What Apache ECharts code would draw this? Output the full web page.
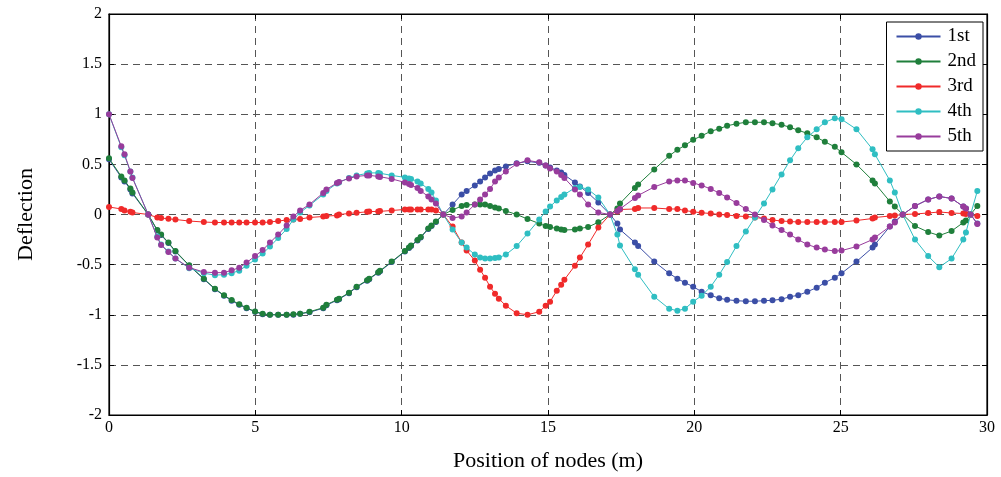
<!DOCTYPE html>
<html>
<head>
<meta charset="utf-8">
<script src="https://cdn.jsdelivr.net/npm/echarts@6/dist/echarts.min.js"></script>
<style>html,body{margin:0;padding:0;background:#fff}#chart{width:1001px;height:477px}</style>
</head>
<body>
<div id="chart"></div>
<script>
// node positions (m)
const nodes = [0, 0.42, 0.53, 0.73, 0.8, 1.34, 1.65, 1.78, 2.03, 2.27, 2.74, 3.24, 3.62, 3.93, 4.19, 4.45, 4.7, 4.99, 5.25, 5.5, 5.78, 6.07, 6.3, 6.53, 6.85,
  7.32, 7.43, 7.79, 7.86, 8.2, 8.46, 8.82, 8.89, 9.2, 9.26, 9.66, 10.11, 10.25, 10.32, 10.54, 10.65, 10.91, 11.02, 11.17, 11.42,
  11.74, 12.05, 12.22, 12.5, 12.68, 12.85, 13.02, 13.19, 13.32, 13.56, 13.93, 14.3, 14.7, 14.92, 15.07, 15.3, 15.45, 15.56, 15.92, 16.09, 16.37, 16.72, 17.12,
  17.37, 17.46, 17.97, 18.08, 18.63, 19.14, 19.42, 19.68, 19.96, 20.25, 20.56, 20.85, 21.12, 21.44, 21.76, 22.07, 22.38, 22.67, 22.98, 23.27, 23.55, 23.86, 24.18, 24.46, 24.8, 25.03, 25.54, 26.09, 26.17, 26.68, 26.85, 27.12, 27.54, 27.99, 28.37, 28.79, 29.19, 29.28, 29.44, 29.67];

const mode1 = [0.55, 0.37, 0.33, 0.25, 0.21, 0, -0.16, -0.205, -0.285, -0.37, -0.51, -0.645, -0.745, -0.81, -0.86, -0.9, -0.935, -0.97, -0.995, -1.0, -1.0, -1.0, -1.0, -0.99, -0.975,
  -0.935, -0.905, -0.855, -0.845, -0.785, -0.725, -0.66, -0.645, -0.58, -0.565, -0.475, -0.37, -0.335, -0.315, -0.26, -0.23, -0.145, -0.115, -0.075, 0,
  0.1, 0.2, 0.235, 0.29, 0.33, 0.37, 0.41, 0.44, 0.455, 0.48, 0.51, 0.53, 0.515, 0.49, 0.47, 0.44, 0.42, 0.395, 0.32, 0.28, 0.215, 0.12, 0,
  -0.09, -0.15, -0.28, -0.315, -0.47, -0.587, -0.64, -0.68, -0.72, -0.77, -0.806, -0.836, -0.85, -0.86, -0.865, -0.865, -0.86, -0.856, -0.845, -0.82, -0.806, -0.77, -0.73, -0.68, -0.63, -0.587, -0.47, -0.33, -0.3, -0.12, -0.07, 0, 0.085, 0.15, 0.18, 0.16, 0.08, 0.06, 0, -0.09];

const mode2 = [0.56, 0.38, 0.34, 0.26, 0.22, 0, -0.155, -0.2, -0.28, -0.365, -0.507, -0.64, -0.74, -0.806, -0.853, -0.896, -0.93, -0.968, -0.99, -1.0, -1.0, -1.0, -0.995, -0.99, -0.97,
  -0.93, -0.9, -0.85, -0.84, -0.78, -0.72, -0.655, -0.64, -0.575, -0.56, -0.47, -0.365, -0.33, -0.31, -0.255, -0.225, -0.14, -0.11, -0.07, 0,
  0.045, 0.085, 0.095, 0.1, 0.1, 0.1, 0.085, 0.07, 0.06, 0.035, 0, -0.045, -0.09, -0.115, -0.125, -0.14, -0.15, -0.155, -0.15, -0.14, -0.125, -0.077, 0,
  0.06, 0.11, 0.265, 0.3, 0.45, 0.585, 0.645, 0.69, 0.745, 0.785, 0.83, 0.855, 0.885, 0.905, 0.92, 0.92, 0.92, 0.91, 0.895, 0.87, 0.84, 0.81, 0.77, 0.725, 0.675, 0.62, 0.5, 0.34, 0.31, 0.13, 0.08, 0, -0.115, -0.175, -0.21, -0.165, -0.08, -0.06, 0, 0.085];

const mode3 = [0.075, 0.055, 0.04, 0.027, 0.02, 0, -0.03, -0.035, -0.043, -0.05, -0.065, -0.075, -0.08, -0.08, -0.08, -0.08, -0.08, -0.08, -0.08, -0.075, -0.065, -0.055, -0.05, -0.045, -0.03,
  -0.02, -0.015, -0.01, 0, 0.01, 0.017, 0.027, 0.03, 0.03, 0.035, 0.04, 0.05, 0.05, 0.05, 0.05, 0.05, 0.05, 0.05, 0.04, 0,
  -0.12, -0.28, -0.36, -0.46, -0.55, -0.63, -0.72, -0.79, -0.84, -0.91, -0.985, -1.0, -0.97, -0.91, -0.87, -0.76, -0.7, -0.65, -0.51, -0.43, -0.3, -0.13, 0,
  0.03, 0.05, 0.055, 0.065, 0.065, 0.055, 0.055, 0.04, 0.027, 0.017, 0.01, 0, -0.005, -0.015, -0.02, -0.03, -0.04, -0.055, -0.065, -0.07, -0.075, -0.075, -0.075, -0.075, -0.075, -0.075, -0.06, -0.04, -0.03, -0.015, -0.01, 0, 0.005, 0.015, 0.025, 0.015, 0.01, 0.005, 0, -0.015];

const mode4 = [1.0, 0.67, 0.59, 0.43, 0.37, 0, -0.22, -0.3, -0.37, -0.44, -0.535, -0.585, -0.605, -0.6, -0.585, -0.56, -0.51, -0.45, -0.39, -0.32, -0.235, -0.145, -0.05, 0.02, 0.09,
  0.2, 0.235, 0.31, 0.32, 0.365, 0.39, 0.41, 0.415, 0.415, 0.41, 0.39, 0.37, 0.36, 0.355, 0.33, 0.31, 0.255, 0.22, 0.14, 0,
  -0.15, -0.28, -0.33, -0.4, -0.43, -0.44, -0.44, -0.435, -0.43, -0.4, -0.315, -0.19, -0.05, 0.03, 0.08, 0.14, 0.175, 0.2, 0.265, 0.275, 0.25, 0.17, 0,
  -0.2, -0.31, -0.547, -0.6, -0.82, -0.94, -0.96, -0.94, -0.87, -0.81, -0.72, -0.6, -0.475, -0.315, -0.17, -0.03, 0.11, 0.25, 0.4, 0.54, 0.66, 0.77, 0.85, 0.92, 0.96, 0.95, 0.85, 0.65, 0.6, 0.34, 0.22, 0, -0.25, -0.415, -0.525, -0.44, -0.25, -0.18, 0, 0.235];

const mode5 = [1.0, 0.68, 0.6, 0.43, 0.365, 0, -0.23, -0.305, -0.375, -0.44, -0.53, -0.574, -0.58, -0.58, -0.557, -0.53, -0.48, -0.415, -0.355, -0.28, -0.2, -0.11, -0.02, 0.04, 0.1,
  0.215, 0.25, 0.315, 0.325, 0.36, 0.38, 0.39, 0.39, 0.38, 0.375, 0.355, 0.32, 0.305, 0.295, 0.265, 0.235, 0.18, 0.15, 0.11, 0,
  -0.035, -0.02, 0.02, 0.1, 0.15, 0.2, 0.255, 0.33, 0.37, 0.43, 0.505, 0.54, 0.52, 0.49, 0.46, 0.43, 0.395, 0.365, 0.25, 0.2, 0.1, 0.02, 0,
  0.035, 0.055, 0.165, 0.19, 0.275, 0.33, 0.34, 0.34, 0.315, 0.29, 0.255, 0.215, 0.17, 0.115, 0.055, 0, -0.055, -0.11, -0.155, -0.2, -0.25, -0.3, -0.33, -0.35, -0.365, -0.36, -0.32, -0.25, -0.23, -0.12, -0.08, 0, 0.085, 0.15, 0.18, 0.16, 0.08, 0.06, 0, -0.095];

const seriesNames = ['1st', '2nd', '3rd', '4th', '5th'];
const seriesValues = [mode1, mode2, mode3, mode4, mode5];
const colors = ['#3b4ea6', '#1f7f3b', '#f02a2a', '#2fbec2', '#983c9c'];

const font = 'Liberation Serif';
const chart = echarts.init(document.getElementById('chart'), null, {renderer: 'canvas'});

const gridLine = {show: true, lineStyle: {color: '#555', width: 1, type: [7, 5]}};

chart.setOption({
  animation: false,
  backgroundColor: '#fff',
  color: colors,
  grid: {left: 109, right: 14, top: 14, bottom: 61, show: true, borderColor: '#000', borderWidth: 1.2, backgroundColor: 'transparent'},
  legend: {
    orient: 'vertical', right: 18, top: 22,
    itemWidth: 44, itemHeight: 8, itemGap: 6,
    padding: [5, 7, 5, 9],
    backgroundColor: '#fff', borderColor: '#000', borderWidth: 1,
    textStyle: {fontFamily: font, fontSize: 19, color: '#000', padding: [0, 0, 0, 2]},
    data: seriesNames
  },
  xAxis: [{
    type: 'value', min: 0, max: 30, interval: 5,
    name: 'Position of nodes (m)', nameLocation: 'middle', nameGap: 35,
    nameTextStyle: {fontFamily: font, fontSize: 22, color: '#000'},
    axisLine: {show: true, onZero: false, lineStyle: {color: '#000', width: 1.2}},
    axisTick: {show: true, inside: true, length: 5, lineStyle: {color: '#000'}},
    axisLabel: {fontFamily: font, fontSize: 16, color: '#000', margin: 5},
    splitLine: gridLine
  }, {
    type: 'value', min: 0, max: 30, interval: 5, position: 'top',
    axisLine: {show: true, onZero: false, lineStyle: {color: '#000', width: 1.2}},
    axisTick: {show: true, inside: true, length: 5, lineStyle: {color: '#000'}},
    axisLabel: {show: false}, splitLine: {show: false}
  }],
  yAxis: [{
    type: 'value', min: -2, max: 2, interval: 0.5,
    name: 'Deflection', nameLocation: 'middle', nameGap: 72,
    nameTextStyle: {fontFamily: font, fontSize: 22, color: '#000'},
    axisLine: {show: true, onZero: false, lineStyle: {color: '#000', width: 1.2}},
    axisTick: {show: true, inside: true, length: 5, lineStyle: {color: '#000'}},
    axisLabel: {fontFamily: font, fontSize: 16, color: '#000', margin: 7},
    splitLine: gridLine
  }, {
    type: 'value', min: -2, max: 2, interval: 0.5, position: 'right',
    axisLine: {show: true, onZero: false, lineStyle: {color: '#000', width: 1.2}},
    axisTick: {show: true, inside: true, length: 5, lineStyle: {color: '#000'}},
    axisLabel: {show: false}, splitLine: {show: false}
  }],
  series: seriesNames.map((name, k) => ({
    name: name,
    type: 'line',
    xAxisIndex: 0, yAxisIndex: 0,
    data: nodes.map((x, i) => [x, seriesValues[k][i]]),
    symbol: 'circle', symbolSize: 6, showSymbol: true,
    lineStyle: {width: 1, color: colors[k]},
    itemStyle: {color: colors[k]},
    z: 2 + k
  }))
});
</script>
</body>
</html>
